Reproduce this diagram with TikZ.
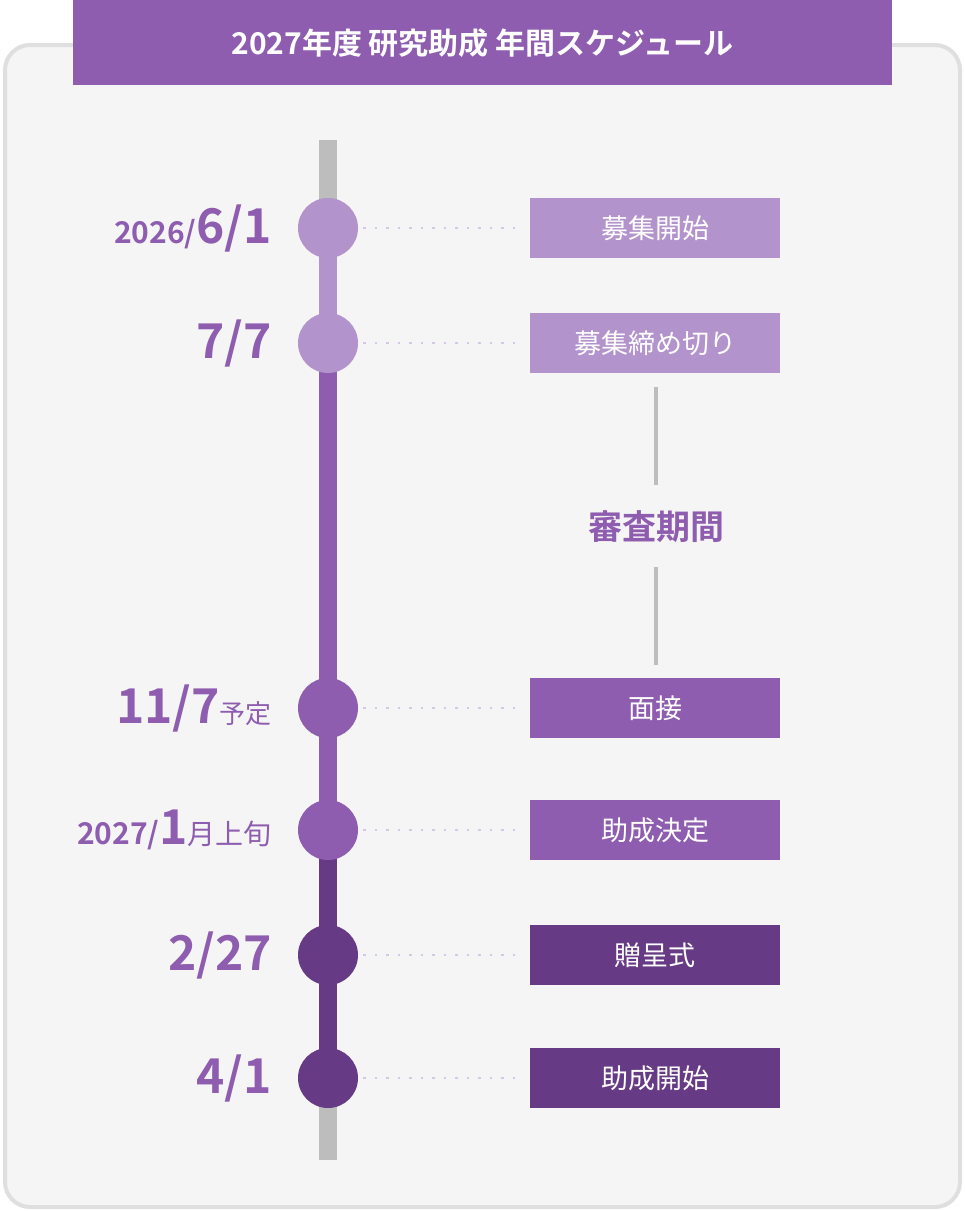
\documentclass[tikz,border=0pt]{standalone}
\usepackage{fontspec}
\setmainfont{Noto Sans CJK JP}
\newfontfamily\jpb{Noto Sans CJK JP Bold}
\definecolor{pl}{HTML}{B393CC}
\definecolor{pm}{HTML}{8E5DB0}
\definecolor{pd}{HTML}{663A85}
\definecolor{gb}{HTML}{BDBDBD}
\definecolor{dotc}{HTML}{D5C8E5}
\tikzset{
 dot/.style={circle,minimum size=60pt,inner sep=0pt},
 evbox/.style={minimum width=250pt,minimum height=60pt,inner sep=0pt,text=white,font=\fontsize{27}{30}\selectfont},
 datelab/.style={anchor=east,text=pm,inner sep=0pt,font=\jpb},
 conn/.style={dotc,line width=2.5pt,dash pattern=on 2.5pt off 9pt}
}
\begin{document}
\begin{tikzpicture}[x=1pt,y=-1pt]
\useasboundingbox (0,0) rectangle (965,1211);
\draw[line width=4pt,draw=gray!25,fill=gray!8,rounded corners=25pt] (5,45) rectangle (960,1207);
\fill[pm] (73,0) rectangle (892,85);
\node (title) at (482.5,43) {\jpb\fontsize{30}{34}\selectfont\color{white}2027年度\ 研究助成\ 年間スケジュール};
% axis
\fill[gb] (319,140) rectangle (337,228);
\fill[pl] (319,228) rectangle (337,343);
\fill[pm] (319,343) rectangle (337,830);
\fill[pd] (319,830) rectangle (337,1078);
\fill[gb] (319,1078) rectangle (337,1160);
\foreach \n/\y/\c/\t in {a/228/pl/募集開始,b/343/pl/募集締め切り,c/708/pm/面接,d/830/pm/助成決定,e/955/pd/贈呈式,f/1078/pd/助成開始}{
 \node[dot,fill=\c] (c\n) at (328,\y) {};
 \node[evbox,fill=\c] (b\n) at (655,\y) {\t};
 \draw[conn] ([xshift=5pt]c\n.east) -- ([xshift=-12pt]b\n.west);
}
\node[datelab] (la) at (272,228) {\fontsize{30}{30}\selectfont 2026/\fontsize{48}{48}\selectfont 6/1};
\node[datelab] (lb) at (272,343) {\fontsize{48}{48}\selectfont 7/7};
\node[datelab] (lc) at (272,708) {\fontsize{48}{48}\selectfont 11/7\fontsize{26}{26}\selectfont\normalfont 予定};
\node[datelab] (ld) at (272,830) {\fontsize{30}{30}\selectfont 2027/\fontsize{48}{48}\selectfont 1\fontsize{28}{28}\selectfont\normalfont 月上旬};
\node[datelab] (le) at (272,955) {\fontsize{48}{48}\selectfont 2/27};
\node[datelab] (lf) at (272,1078) {\fontsize{48}{48}\selectfont 4/1};
% review period
\node (rv) at (656,527) {\jpb\fontsize{34}{36}\selectfont\color{pm}審査期間};
\coordinate (r1) at (656,387); \coordinate (r2) at (656,665);
\draw[gb,line width=4pt] (r1) -- (rv.north|-0,485);
\draw[gb,line width=4pt] (rv.south|-0,567) -- (r2);
\end{tikzpicture}
\end{document}
